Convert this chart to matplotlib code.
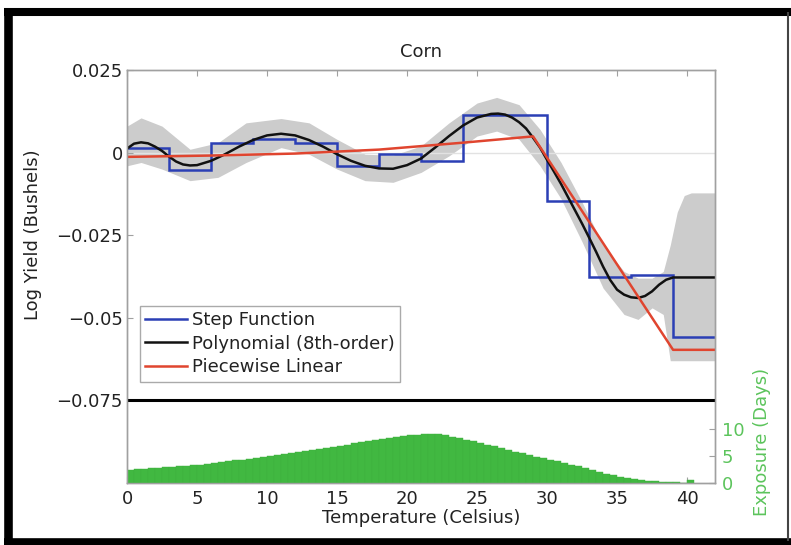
import numpy as np
import matplotlib.pyplot as plt
from matplotlib.lines import Line2D

plt.rcParams['font.family'] = ['DejaVu Sans']

# step function: 3-degree bins
step_edges = [0, 3, 6, 9, 12, 15, 18, 21, 24, 27, 30, 33, 36, 39, 42]
step_vals = [0.0015, -0.0052, 0.003, 0.004, 0.003, -0.004, -0.0003,
             -0.0024, 0.0113, 0.0113, -0.0148, -0.0378, -0.0372, -0.0558]

# 8th-order polynomial
poly_t = [0, 0.5, 1, 1.5, 2, 2.5, 3, 3.5, 4, 4.5, 5, 6, 7, 8, 9, 10, 11, 12,
          13, 14, 15, 16, 17, 18, 19, 20, 21, 22, 23, 24, 25, 26, 26.5, 27,
          27.5, 28, 28.5, 29, 29.5, 30, 30.5, 31, 31.5, 32, 32.5, 33, 33.5,
          34, 34.5, 35, 35.5, 36, 36.5, 37, 37.5, 38, 38.5, 39, 42]
poly_y = [0.0012, 0.0027, 0.0031, 0.0028, 0.0018, 0.0005, -0.0012, -0.0027,
          -0.0036, -0.0039, -0.0038, -0.0025, -0.0005, 0.0018, 0.0038, 0.0052,
          0.0057, 0.0052, 0.0038, 0.0018, -0.0005, -0.0025, -0.0040, -0.0048,
          -0.0049, -0.0038, -0.0018, 0.0015, 0.0050, 0.0082, 0.0106, 0.0117,
          0.0118, 0.0115, 0.0106, 0.0092, 0.0073, 0.0045, 0.0015, -0.0022,
          -0.0058, -0.0095, -0.0135, -0.0175, -0.0215, -0.0257, -0.0300,
          -0.0345, -0.0385, -0.0415, -0.0430, -0.0438, -0.0440, -0.0434,
          -0.0420, -0.0400, -0.0385, -0.0378, -0.0378]

# piecewise linear
pw_t = [0, 6, 12, 18, 24, 29, 39, 42]
pw_y = [-0.0013, -0.0009, -0.0003, 0.0009, 0.003, 0.0049, -0.0597, -0.0597]

# confidence band
band_t = [0, 1, 2.5, 4.5, 6.5, 8.5, 11, 13, 15, 17, 19, 21, 23, 25, 26.4, 28,
          29.5, 31, 32.5, 34, 35.5, 36.5, 37.5, 38.3, 38.8, 39.3, 39.8, 40.3, 42]
band_hi = [0.008, 0.0105, 0.008, 0.001, 0.003, 0.009, 0.0103, 0.009, 0.004,
           -0.0005, -0.0008, 0.002, 0.009, 0.015, 0.0167, 0.0145, 0.007,
           -0.003, -0.015, -0.028, -0.036, -0.038, -0.038, -0.036, -0.028,
           -0.018, -0.013, -0.0122, -0.0122]
band_lo = [-0.004, -0.003, -0.005, -0.0085, -0.0075, -0.003, 0.0015, -0.0005,
           -0.005, -0.0085, -0.009, -0.006, -0.001, 0.005, 0.0065, 0.004,
           -0.004, -0.014, -0.027, -0.041, -0.049, -0.0505, -0.047, -0.049,
           -0.063, -0.063, -0.063, -0.063, -0.063]

# exposure histogram (days per half-degree bin)
exp_t = np.arange(0, 40.5, 0.5)
exp_days = [2.4, 2.5, 2.6, 2.7, 2.8, 2.9, 3.0, 3.1, 3.2, 3.3, 3.4, 3.6, 3.7,
            3.9, 4.0, 4.2, 4.3, 4.5, 4.7, 4.8, 5.0, 5.2, 5.4, 5.5, 5.7, 5.9,
            6.1, 6.3, 6.5, 6.7, 6.9, 7.1, 7.4, 7.6, 7.8, 8.0, 8.2, 8.4, 8.5,
            8.7, 8.8, 8.9, 9.0, 9.1, 9.0, 8.9, 8.6, 8.3, 8.0, 7.7, 7.4, 7.1,
            6.8, 6.5, 6.2, 5.8, 5.5, 5.2, 4.9, 4.6, 4.3, 4.0, 3.7, 3.4, 3.1,
            2.8, 2.4, 2.0, 1.7, 1.4, 1.1, 0.9, 0.7, 0.5, 0.4, 0.3, 0.2, 0.15,
            0.1, 0.08, 0.6]

yticks = [-0.075, -0.05, -0.025, 0, 0.025]
ytick_labels = ['\u22120.075', '\u22120.05', '\u22120.025', '0', '0.025']

txt = '#222222'
spine = '#a0a0a0'
green = '#5cc45c'

fig = plt.figure(figsize=(7.91, 5.45), dpi=100)
ax = fig.add_axes([0.1606, 0.1138, 0.7434, 0.7578])

ax.fill_between(band_t, band_lo, band_hi, color='#cccccc', lw=0, zorder=1)
ax.axhline(0, color='#e2e2e2', lw=1, zorder=1.5)
ax.stairs(step_vals, step_edges, baseline=None, color='#2b3fb5', lw=1.8,
          label='Step Function', zorder=2)
ax.plot(poly_t, poly_y, color='#111111', lw=1.8,
        label='Polynomial (8th-order)', zorder=3)
ax.plot(pw_t, pw_y, color='#e0452f', lw=1.8, label='Piecewise Linear',
        zorder=4)
ax.axhline(-0.075, color='black', lw=2.2, zorder=5)

ax.set_xlim(0, 42)
ax.set_ylim(-0.1, 0.025)
ax.set_xticks(range(0, 41, 5))
ax.set_yticks(yticks)
ax.set_yticklabels(ytick_labels)
ax.tick_params(direction='in', length=4, color=spine, labelsize=13,
               labelcolor=txt, top=True)
ax.tick_params(axis='x', pad=5)
ax.tick_params(axis='y', pad=3)
for s in ax.spines.values():
    s.set_color(spine)
    s.set_linewidth(1)

ax.set_title('Corn', fontsize=13, color=txt, pad=9)
ax.set_xlabel('Temperature (Celsius)', fontsize=13, color=txt, labelpad=1)
ax.set_ylabel('Log Yield (Bushels)', fontsize=13, color=txt)
ax.yaxis.set_label_coords(-0.145, 0.60)

leg = ax.legend(loc='upper left', bbox_to_anchor=(0.022, 0.4286),
                borderaxespad=0, fontsize=13, frameon=True, fancybox=False,
                framealpha=1, edgecolor='#aaaaaa', handlelength=2.3,
                handletextpad=0.3, labelspacing=0.3, borderpad=0.3)
leg.get_frame().set_linewidth(1)
for t in leg.get_texts():
    t.set_color(txt)

ax2 = ax.twinx()
ax2.bar(exp_t, exp_days, width=0.5, align='edge', color='#41b841',
        edgecolor='#3db03d', linewidth=0.3)
ax2.set_ylim(0, 76.5)
ax2.set_yticks([0, 5, 10])
ax2.tick_params(axis='y', direction='in', length=4, color=spine,
                labelsize=13, labelcolor=green, pad=5)
ax2.set_ylabel('Exposure (Days)', fontsize=13, color=green)
ax2.yaxis.set_label_coords(1.065, 0.10)
for s in ax2.spines.values():
    s.set_color(spine)
    s.set_linewidth(1)

# outer frame of the picture
W, H = 791.0, 545.0
frame = [
    ([8.3 / W, 8.3 / W], [0, 1 - 8 / H], 6.2, 'black'),
    ([4 / W, 1], [1 - 12 / H, 1 - 12 / H], 5.8, 'black'),
    ([4 / W, 1], [1 - 541.5 / H, 1 - 541.5 / H], 5.5, 'black'),
    ([788 / W, 788 / W], [1 - 12 / H, 1 - 541 / H], 1.5, '#444444'),
]
for xs, ys, lw, c in frame:
    fig.add_artist(Line2D(xs, ys, transform=fig.transFigure, lw=lw, color=c,
                          solid_capstyle='butt'))

fig.savefig('out.png', dpi=100)
